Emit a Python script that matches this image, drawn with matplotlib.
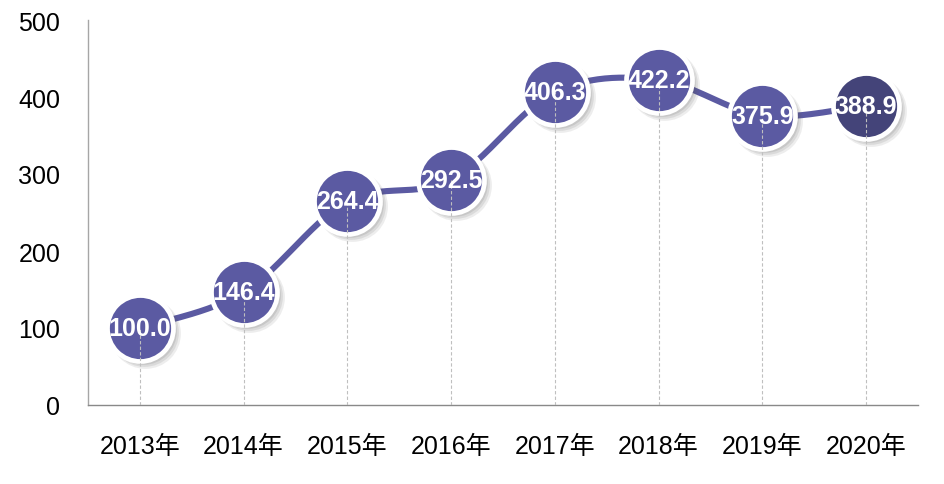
import numpy as np
import matplotlib
matplotlib.use("Agg")
import matplotlib.pyplot as plt
import matplotlib.transforms as mtransforms

plt.rcParams['font.family'] = ['Liberation Sans', 'Noto Sans CJK SC', 'DejaVu Sans']

years = ['2013年', '2014年', '2015年', '2016年', '2017年', '2018年', '2019年', '2020年']
values = [100.0, 146.4, 264.4, 292.5, 406.3, 422.2, 375.9, 388.9]
value_labels = ['100.0', '146.4', '264.4', '292.5', '406.3', '422.2', '375.9', '388.9']
y_ticks = [0, 100, 200, 300, 400, 500]

purple = '#5B5AA2'
dark_purple = '#444479'

fig = plt.figure(figsize=(9.45, 4.85), dpi=100)
ax = fig.add_axes([88 / 945, 1 - 406 / 485, 830 / 945, 385 / 485])

x = np.arange(len(values))
y = np.array(values)

# smoothed line (Excel-like Bezier smoothing through the data points)
def smooth(xp, yp, n=30):
    P = np.column_stack([xp, yp]).astype(float)
    Pext = np.vstack([P[0], P, P[-1]])
    out = []
    for i in range(1, len(Pext) - 2):
        p0, p1, p2, p3 = Pext[i - 1], Pext[i], Pext[i + 1], Pext[i + 2]
        c1 = p1 + (p2 - p0) / 6
        c2 = p2 - (p3 - p1) / 6
        t = np.linspace(0, 1, n)[:, None]
        seg = ((1 - t) ** 3) * p1 + 3 * ((1 - t) ** 2) * t * c1 + 3 * (1 - t) * t ** 2 * c2 + t ** 3 * p2
        out.append(seg if i == 1 else seg[1:])
    s = np.vstack(out)
    return s[:, 0], s[:, 1]

sx, sy = smooth(x, y)
ax.plot(sx, sy, color=purple, lw=4.4, solid_capstyle='round', zorder=2)

# soft shadows for markers
for k, (dx, dy, a) in enumerate([(5, -5, 0.10), (4, -4, 0.12), (3, -3, 0.14)]):
    tr = mtransforms.offset_copy(ax.transData, fig=fig, x=dx, y=dy, units='dots')
    ax.plot(x, y, 'o', ms=51 - k * 1.5, color='#555555', alpha=a, mew=0,
            transform=tr, zorder=3)

colors = [purple] * (len(values) - 1) + [dark_purple]
for xi, yi, c in zip(x, y, colors):
    ax.plot([xi], [yi], 'o', ms=47.5, mfc=c, mec='white', mew=3.4, zorder=4)

# drop lines
ax.vlines(x, 0, y, colors='#BFBFBF', linestyles=(0, (3, 2)), lw=0.8, zorder=5)

for xi, yi, lab in zip(x, y, value_labels):
    ax.text(xi, yi, lab, ha='center', va='center', color='white',
            fontsize=18, fontweight='bold', zorder=6)

ax.set_xlim(-0.5, len(values) - 0.5)
ax.set_ylim(0, 500)
ax.set_yticks(y_ticks)
ax.set_xticks(x)
ax.set_xticklabels(years)
ax.tick_params(axis='both', length=0, labelsize=18, colors='black')
ax.tick_params(axis='y', pad=20)
ax.tick_params(axis='x', pad=21)

for s in ['top', 'right']:
    ax.spines[s].set_visible(False)
ax.spines['left'].set_color('#A6A6A6')
ax.spines['bottom'].set_color('#898989')
ax.spines['left'].set_linewidth(1.0)
ax.spines['bottom'].set_linewidth(1.0)

fig.savefig('out.png', dpi=100)
